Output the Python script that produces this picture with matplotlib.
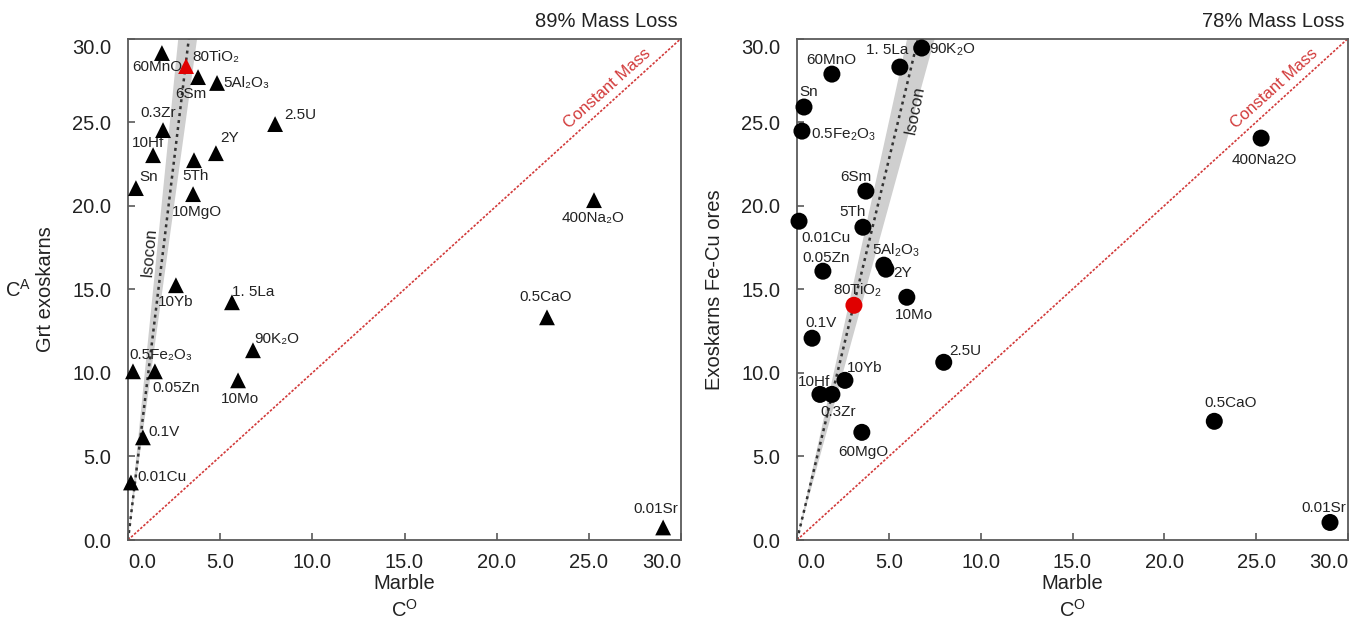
import matplotlib
matplotlib.use("Agg")
import matplotlib.pyplot as plt
import numpy as np

plt.rcParams['font.family'] = ['Liberation Sans', 'DejaVu Sans']
plt.rcParams['mathtext.fontset'] = 'custom'
plt.rcParams['mathtext.rm'] = 'Liberation Sans'
plt.rcParams['mathtext.default'] = 'rm'

# left panel: Grt exoskarns vs marble (89% mass loss)
grt_labels = ["60MnO", "80TiO₂", "6Sm", "5Al₂O₃", "0.3Zr", "2.5U", "10Hf", "2Y",
              "5Th", "Sn", "10MgO", "10Yb", "1. 5La", "90K₂O", "0.5Fe₂O₃",
              "0.05Zn", "10Mo", "0.1V", "0.01Cu", "400Na₂O", "0.5CaO", "0.01Sr"]
grt_x = [1.84, 3.15, 3.80, 4.83, 1.90, 7.98, 1.36, 4.77, 3.58, 0.43, 3.53,
         2.60, 5.64, 6.78, 0.27, 1.46, 5.97, 0.81, 0.16, 25.28, 22.73, 29.03]
grt_y = [29.13, 28.35, 27.69, 27.34, 24.52, 24.88, 23.02, 23.14, 22.72, 21.05,
         20.69, 15.24, 14.22, 11.35, 10.09, 10.09, 9.55, 6.14, 3.44, 20.33,
         13.32, 0.75]
grt_red = "80TiO₂"
grt_isocon = 9.09
grt_band = (8.0, 11.0)

# right panel: Fe-Cu ores vs marble (78% mass loss)
ore_labels = ["90K$_2$O", "1. 5La", "60MnO", "Sn", "0.5Fe$_2$O$_3$", "6Sm",
              "0.01Cu", "5Th", "5Al$_2$O$_3$", "2Y", "0.05Zn", "80TiO$_2$",
              "10Mo", "0.1V", "2.5U", "10Yb", "10Hf", "0.3Zr", "60MgO",
              "0.5CaO", "0.01Sr", "400Na2O"]
ore_x = [6.79, 5.60, 1.90, 0.38, 0.27, 3.75, 0.11, 3.59, 4.73, 4.84, 1.41,
         3.10, 5.98, 0.82, 7.99, 2.61, 1.25, 1.90, 3.53, 22.72, 29.02, 25.27]
ore_y = [29.43, 28.29, 27.87, 25.90, 24.46, 20.87, 19.07, 18.71, 16.44, 16.20,
         16.08, 14.04, 14.52, 12.07, 10.63, 9.55, 8.71, 8.71, 6.44, 7.10,
         1.05, 24.04]
ore_red = "80TiO$_2$"
ore_isocon = 4.55
ore_band = (4.0, 5.0)

ticks = [0, 5, 10, 15, 20, 25, 30]

# label offsets in pixels (dx right, dy up)
grt_off = [(-5, -14), (30, 9), (-7, -17), (29, 0), (-5, 17), (25, 9), (-5, 12),
           (14, 15), (2, -16), (13, 11), (4, -18), (0, -17), (21, 10), (24, 11),
           (28, 16), (21, -17), (2, -19), (21, 5), (31, 5), (-1, -18), (-1, 20),
           (-7, 18)]
ore_off = [(31, -2), (-13, 17), (-1, 14), (5, 15), (41, -4), (-10, 14), (27, -17),
           (-10, 15), (12, 15), (17, -4), (3, 13), (4, 15), (7, -18), (9, 15),
           (22, 11), (20, 12), (-6, 12), (6, -18), (1, -20), (16, 18), (-6, 14),
           (3, -22)]

W, H = 1349, 622
fig = plt.figure(figsize=(W / 100, H / 100), dpi=100)
ax1 = fig.add_axes([128 / W, 82 / H, 553 / W, 501.5 / H])
ax2 = fig.add_axes([797 / W, 82 / H, 551 / W, 501.5 / H])

SPINE = "#5a5a5a"
TXT = "#222222"
RED_LINE = "#d23a3a"


def draw_panel(ax, xs, ys, labels, offs, red, marker, msize, slope, band,
               title, ylabel, iso_pos, iso_rot):
    ax.set_xlim(0, 30)
    ax.set_ylim(0, 30)
    for s in ax.spines.values():
        s.set_color(SPINE)
        s.set_linewidth(1.3)

    # isocon band and line
    ax.fill([0, 30 / band[1], 30 / band[0]], [0, 30, 30], color="#cfcfcf",
            lw=0, zorder=1)
    xi = np.array([0, 30 / slope])
    ax.plot(xi, xi * slope, color="#333333", ls=(0, (1.2, 1.6)), lw=1.8,
            zorder=2)
    ax.text(iso_pos[0], iso_pos[1], "Isocon", rotation=iso_rot, fontsize=12,
            color=TXT, ha="center", va="center", zorder=3)

    # constant mass
    ax.plot([0, 30], [0, 30], color=RED_LINE, ls=(0, (1.5, 1.0)), lw=1.2,
            zorder=2)
    ax.text(26.0, 27.0, "Constant Mass", rotation=42, fontsize=12,
            color=RED_LINE, ha="center", va="center", zorder=3)

    cols = ["#e00000" if l == red else "black" for l in labels]
    ax.scatter(xs, ys, marker=marker, s=msize, c=cols, zorder=5, clip_on=False,
               linewidths=0)
    for x, y, l, o in zip(xs, ys, labels, offs):
        ax.annotate(l, (x, y), xytext=o, textcoords="offset pixels",
                    ha="center", va="center", fontsize=11, color=TXT,
                    zorder=4, annotation_clip=False)

    ax.set_xticks(ticks)
    ax.set_yticks(ticks)
    ax.set_xticklabels(["%.1f" % t for t in ticks])
    ax.set_yticklabels(["%.1f" % t for t in ticks])
    ax.tick_params(direction="in", length=5, width=1.2, color=SPINE,
                   labelsize=14.5, labelcolor=TXT)
    ax.tick_params(axis="x", pad=9)
    ax.tick_params(axis="y", pad=12)
    xl = ax.get_xticklabels()
    xl[0].set_ha("left")
    xl[-1].set_ha("right")
    ax.get_yticklabels()[-1].set_va("top")

    ax.annotate(title, (1, 1), xytext=(-3, 17), textcoords="offset pixels",
                xycoords="axes fraction", ha="right", va="center",
                fontsize=14.5, color=TXT)
    ax.set_xlabel("Marble", fontsize=14.5, color=TXT, labelpad=2)
    ax.annotate("C$^{O}$", (0.5, 0), xytext=(0, -70), textcoords="offset pixels",
                xycoords="axes fraction", ha="center", va="center",
                fontsize=14.5, color=TXT, annotation_clip=False)
    ax.set_ylabel(ylabel, fontsize=14.5, color=TXT)


draw_panel(ax1, grt_x, grt_y, grt_labels, grt_off, grt_red, "^", 130,
           grt_isocon, grt_band, "89% Mass Loss", "Grt exoskarns",
           (1.14, 17.2), 85)
draw_panel(ax2, ore_x, ore_y, ore_labels, ore_off, ore_red, "o", 150,
           ore_isocon, ore_band, "78% Mass Loss", "Exoskarns Fe-Cu ores",
           (6.4, 25.7), 79)

ax1.yaxis.set_label_coords(-73 / 553, 0.5)
ax2.yaxis.set_label_coords(-73 / 551, 0.5)
fig.text(18 / W, 1 - 290 / H, "C$^{A}$", fontsize=14.5, color=TXT,
         ha="center", va="center")

fig.savefig("out.png", dpi=100)
